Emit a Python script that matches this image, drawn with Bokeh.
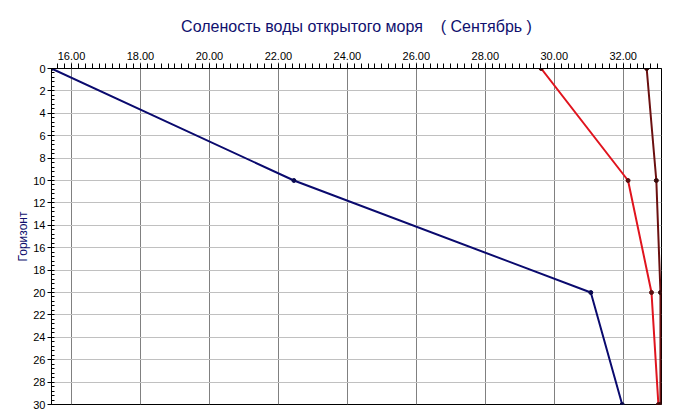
from bokeh.plotting import figure
from bokeh.models import Range1d, FixedTicker, NumeralTickFormatter
from bokeh.embed import file_html
from bokeh.resources import INLINE

depth = [0, 10, 20, 30]
s_blue = [15.42, 22.45, 31.06, 31.97]
s_red = [29.62, 32.14, 32.82, 33.02]
s_brown = [32.68, 32.96, 33.08, 33.08]
x_ticks = [16, 18, 20, 22, 24, 26, 28, 30, 32]
y_ticks = list(range(0, 31, 2))

FONT = "Liberation Sans"
NB = "\u00a0"

p = figure(width=667, height=411, output_backend="svg", toolbar_location=None,
           x_range=Range1d(15.42, 33.11), y_range=Range1d(30, 0),
           x_axis_location="above", min_border_left=51, min_border_right=6,
           min_border_bottom=7, min_border_top=68)
p.background_fill_color = "white"
p.border_fill_color = "white"
p.outline_line_color = "black"
p.outline_line_width = 1

p.title.text = "Соленость воды открытого моря" + NB * 4 + "(" + NB + "Сентябрь" + NB + ")"
p.title.align = "center"
p.title.text_font = FONT
p.title.text_font_size = "16px"
p.title.text_font_style = "normal"
p.title.text_color = "#10106e"
p.title.offset = 0
p.title.standoff = 28

xa = p.xaxis[0]
xa.ticker = FixedTicker(ticks=x_ticks, minor_ticks=[16 + 0.2 * i for i in range(-3, 87)])
xa.formatter = NumeralTickFormatter(format="0.00")
xa.major_label_text_font = FONT
xa.major_label_text_font_size = "11px"
xa.major_label_text_color = "black"
xa.major_tick_out = 6
xa.major_tick_in = 0
xa.major_tick_line_color = "#808080"
xa.minor_tick_out = 5
xa.minor_tick_in = 0
xa.major_label_standoff = 3
xa.axis_line_color = "black"

ya = p.yaxis[0]
ya.ticker = FixedTicker(ticks=y_ticks, minor_ticks=[0.4 * i for i in range(0, 76)])
ya.major_label_text_font = FONT
ya.major_label_text_font_size = "11px"
ya.major_label_text_color = "black"
ya.major_tick_out = 4
ya.major_tick_in = 0
ya.minor_tick_out = 0
ya.minor_tick_in = 3
ya.major_label_standoff = 2
ya.axis_label = "Горизонт"
ya.axis_label_text_font = FONT
ya.axis_label_text_font_size = "12px"
ya.axis_label_text_font_style = "normal"
ya.axis_label_text_color = "#10106e"
ya.axis_label_standoff = 0

p.xgrid.grid_line_color = "#808080"
p.xgrid.grid_line_width = 1
p.ygrid.grid_line_color = "#c0c0c0"
p.ygrid.grid_line_width = 1

p.line(s_blue, depth, line_color="#0a0a6e", line_width=2)
p.line(s_red, depth, line_color="#e0141e", line_width=2)
p.line(s_brown, depth, line_color="#6b1010", line_width=2)
for xs, c in [(s_blue, "#0a0a50"), (s_red, "#5a1010"), (s_brown, "#3a0a0a")]:
    p.scatter(xs, depth, size=4, fill_color=c, line_color=c)

open("out.html", "w").write(file_html(p, INLINE))
